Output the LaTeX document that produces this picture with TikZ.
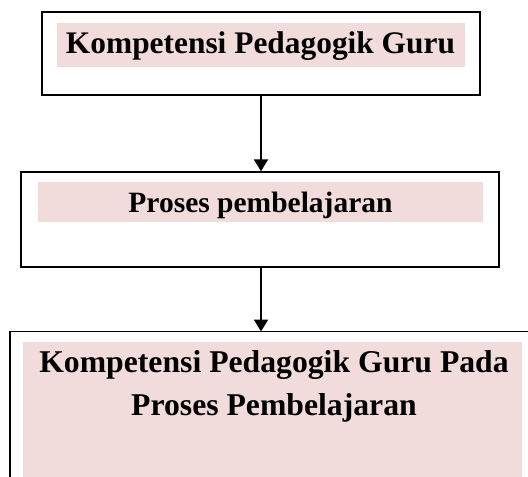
\documentclass[tikz,border=0pt]{standalone}
\usepackage{fontspec}
\setmainfont{Liberation Serif}
\usetikzlibrary{arrows.meta}
\definecolor{bandpink}{HTML}{F2DBDB}
\tikzset{
    box/.style     = {draw, line width=1.4pt, inner sep=0pt},
    band/.style    = {fill=bandpink, inner sep=0pt},
    boxtext/.style = {inner sep=0pt, align=center, font=\bfseries\fontsize{#1}{43.5}\selectfont},
    flow/.style    = {line width=2pt, -{Triangle[width=14pt,length=12pt]}}
}

\begin{document}
\begin{tikzpicture}[x=1pt,y=-1pt]
          \useasboundingbox (0,0) rectangle (528,477);

          \begin{scope}
            \node[box, minimum width=438pt, minimum height=83pt] (k1) at (261,53.5) {};
            \node[band, minimum width=408pt, minimum height=44pt] (b1) at (261,45) {};
            \node[boxtext=31.4, anchor=base] (t1) at (260.5,53) {Kompetensi Pedagogik Guru};
          \end{scope}

          \begin{scope}
            \node[box, minimum width=478pt, minimum height=95pt] (k2) at (260,219.5) {};
            \node[band, minimum width=445pt, minimum height=40pt] (b2) at (260.5,201.7) {};
            \node[boxtext=29.5, anchor=base] (t2) at (260.5,212) {Proses pembelajaran};
          \end{scope}

          \begin{scope}
            \clip (0,0) rectangle (528,477);
            \node[inner sep=0pt, minimum width=600pt, minimum height=200pt, anchor=north west] (k3) at (10,331.5) {};
            \draw[line width=1.4pt] (k3.south west) -- (k3.north west) -- (k3.north east);
            \node[band, minimum width=499pt, minimum height=150pt, anchor=north west] (b3) at (23,342) {};
          \end{scope}
          \node[boxtext=31.7, anchor=north] (t3) at (274,350) {Kompetensi Pedagogik Guru Pada\\Proses Pembelajaran};

          \begin{scope}
            \draw[flow] (k1.south) -- (k1.south |- k2.north);
            \draw[flow] (k2.south -| k1.south) -- (k1.south |- k3.north);
          \end{scope}
        \end{tikzpicture}
\end{document}
